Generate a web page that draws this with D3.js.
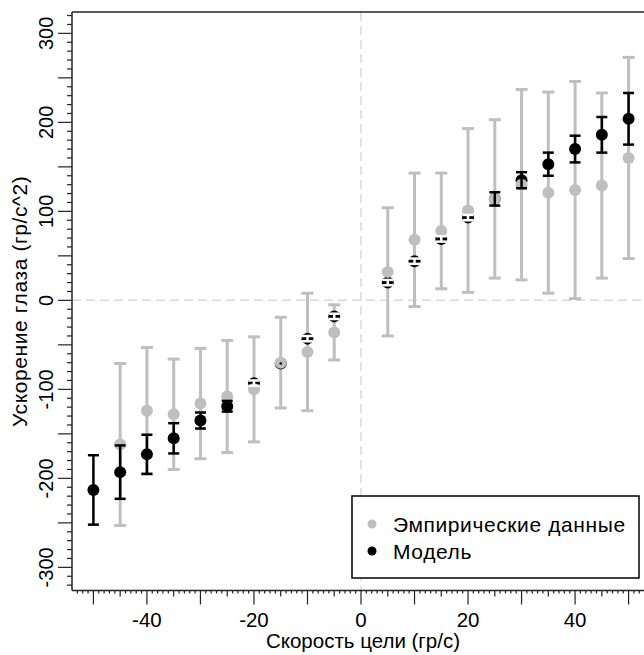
<!DOCTYPE html>
<html>
<head>
<meta charset="utf-8">
<script src="https://cdn.jsdelivr.net/npm/d3@7"></script>
<style>
  body { margin: 0; background: #fff; }
  text { font-family: "Liberation Sans", Arial, sans-serif; }
</style>
</head>
<body>
<div id="chart"></div>
<script>
// target speed (deg/s)
const modelSpeeds = [-50, -45, -40, -35, -30, -25, -20, -15, -10, -5, 5, 10, 15, 20, 25, 30, 35, 40, 45, 50];
const modelMean = [-213, -193, -173, -155, -135, -119, -93, -71, -43, -18, 20, 44, 69, 93, 114, 135, 153, 170, 186, 204];
const modelErr = [39, 30, 22, 17, 9, 6, 3, 0, 3, 3, 3, 3, 3, 3, 7.5, 9, 13, 15, 20, 29];

const empSpeeds = [-45, -40, -35, -30, -25, -20, -15, -10, -5, 5, 10, 15, 20, 25, 30, 35, 40, 45, 50];
const empMean = [-162, -124, -128, -116, -108, -100, -70, -58, -36, 32, 68, 78, 101, 114, 130, 121, 124, 129, 160];
const empErr = [91, 71, 62, 62, 63, 59, 51, 66, 31, 72, 75, 65, 92, 89, 107, 113, 122, 104, 113];

const xTickLabels = [-40, -20, 0, 20, 40];
const yTickLabels = [-300, -200, -100, 0, 100, 200, 300];
const legendLabels = ["Эмпирические данные", "Модель"];

const W = 644, H = 655;
const pLeft = 72, pTop = 12, pBottom = 590.5, pRight = 650;
const grey = "#bfbfbf";
const r = 6;

const x = d3.scaleLinear().domain([-54, 54]).range([pLeft, pRight]);
const y = d3.scaleLinear().domain([-326, 324]).range([pBottom, pTop]);

const svg = d3.select("#chart").append("svg")
  .attr("width", W).attr("height", H);

const model = modelSpeeds.map((s, i) => ({ s, m: modelMean[i], e: modelErr[i] }));
const emp = empSpeeds.map((s, i) => ({ s, m: empMean[i], e: empErr[i] }));

// zero lines
svg.append("line")
  .attr("x1", pLeft).attr("x2", pRight)
  .attr("y1", y(0)).attr("y2", y(0))
  .attr("stroke", "#d9d9d9").attr("stroke-width", 1.5)
  .attr("stroke-dasharray", "9,5");
svg.append("line")
  .attr("x1", x(0)).attr("x2", x(0))
  .attr("y1", pTop).attr("y2", pBottom)
  .attr("stroke", "#d9d9d9").attr("stroke-width", 1.5)
  .attr("stroke-dasharray", "9,5");

function errorBars(g, data, color, width, capW) {
  const col = typeof color === "function" ? color : () => color;
  const bars = g.selectAll("g").data(data).join("g");
  bars.append("line")
    .attr("x1", d => x(d.s)).attr("x2", d => x(d.s))
    .attr("y1", d => y(d.m + d.e)).attr("y2", d => y(d.m - d.e))
    .attr("stroke", col)
    .attr("stroke-width", width);
  [1, -1].forEach(sign => {
    bars.append("line")
      .attr("x1", d => x(d.s) - capW).attr("x2", d => x(d.s) + capW)
      .attr("y1", d => y(d.m + sign * d.e)).attr("y2", d => y(d.m + sign * d.e))
      .attr("stroke", col)
      .attr("stroke-width", width);
  });
}

// empirical error bars
errorBars(svg.append("g"), emp, grey, 3, 6);

// model markers
svg.append("g").selectAll("circle").data(model).join("circle")
  .attr("cx", d => x(d.s)).attr("cy", d => y(d.m))
  .attr("r", r).attr("fill", "#000");

// empirical markers on top
svg.append("g").selectAll("circle").data(emp).join("circle")
  .attr("cx", d => x(d.s)).attr("cy", d => y(d.m))
  .attr("r", r).attr("fill", grey);

// model error bars (white when tiny and hidden inside the marker)
errorBars(svg.append("g"), model.filter(d => d.e > 0),
  d => (y(d.m - d.e) - y(d.m) < 4 ? "#fff" : "#000"), 2.5, 5.5);
svg.append("g").selectAll("circle").data(model.filter(d => d.e === 0)).join("circle")
  .attr("cx", d => x(d.s)).attr("cy", d => y(d.m))
  .attr("r", 1.3).attr("fill", "#000");

// axes
const axisColor = "#222";
const xAxis = svg.append("g");
xAxis.append("line")
  .attr("x1", pLeft).attr("x2", pRight).attr("y1", pBottom).attr("y2", pBottom)
  .attr("stroke", axisColor).attr("stroke-width", 1.5);
xAxis.selectAll("line.tick").data(d3.range(-53, 55, 1)).join("line")
  .attr("class", "tick")
  .attr("x1", d => x(d)).attr("x2", d => x(d))
  .attr("y1", pBottom)
  .attr("y2", d => pBottom + (d % 10 === 0 ? 14 : d % 5 === 0 ? 6 : 3))
  .attr("stroke", axisColor).attr("stroke-width", 1.2);
xAxis.selectAll("text").data(xTickLabels).join("text")
  .attr("x", d => x(d)).attr("y", 627)
  .attr("text-anchor", "middle")
  .attr("font-size", 20.5).attr("fill", "#000")
  .text(d => d);

const yAxis = svg.append("g");
yAxis.append("line")
  .attr("x1", pLeft).attr("x2", pLeft).attr("y1", pTop).attr("y2", pBottom)
  .attr("stroke", axisColor).attr("stroke-width", 1.5);
yAxis.selectAll("line.tick").data(d3.range(-320, 321, 10)).join("line")
  .attr("class", "tick")
  .attr("x1", pLeft)
  .attr("x2", d => pLeft - (d % 50 === 0 ? 14 : 5))
  .attr("y1", d => y(d)).attr("y2", d => y(d))
  .attr("stroke", axisColor).attr("stroke-width", 1.2);
yAxis.selectAll("text").data(yTickLabels).join("text")
  .attr("transform", d => `translate(53,${y(d)}) rotate(-90)`)
  .attr("text-anchor", "middle")
  .attr("font-size", 20).attr("fill", "#000")
  .text(d => d);

// top frame
svg.append("line")
  .attr("x1", pLeft).attr("x2", pRight).attr("y1", pTop).attr("y2", pTop)
  .attr("stroke", axisColor).attr("stroke-width", 1.5);

// axis titles
svg.append("text")
  .attr("x", x(0) + 2).attr("y", 648)
  .attr("text-anchor", "middle").attr("font-size", 20.5)
  .text("Скорость цели (гр/с)");
svg.append("text")
  .attr("transform", `translate(27,${(pTop + pBottom) / 2}) rotate(-90)`)
  .attr("text-anchor", "middle").attr("font-size", 21)
  .attr("letter-spacing", 0.6)
  .text("Ускорение глаза (гр/с^2)");

// legend
const legend = svg.append("g");
legend.append("rect")
  .attr("x", 352).attr("y", 496).attr("width", 287).attr("height", 82)
  .attr("fill", "#fff").attr("stroke", "#000").attr("stroke-width", 1.5);
const items = legend.selectAll("g").data(legendLabels).join("g")
  .attr("transform", (d, i) => `translate(372,${524 + i * 27})`);
items.append("circle").attr("r", 4.5).attr("fill", (d, i) => i === 0 ? grey : "#000");
items.append("text").attr("x", 21).attr("y", 7.5)
  .attr("font-size", 21).attr("letter-spacing", 0.6).text(d => d);
</script>
</body>
</html>
